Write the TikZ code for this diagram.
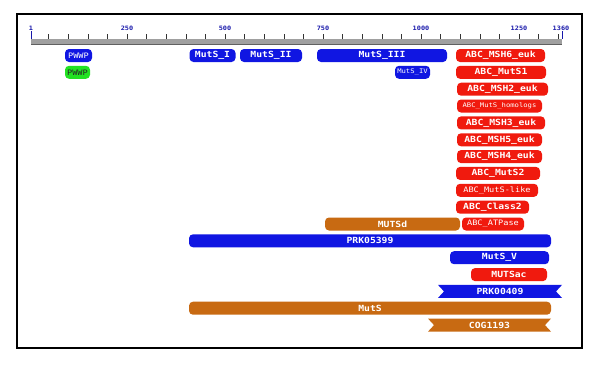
\documentclass[tikz,border=0pt]{standalone}
\usepackage{fontspec}
\newfontfamily\domfont[FakeStretch=1.15]{DejaVu Sans Mono}
\definecolor{cddblue}{RGB}{16,22,226}
\definecolor{cddred}{RGB}{240,26,14}
\definecolor{cddorange}{RGB}{200,106,18}
\definecolor{cddgreen}{RGB}{34,226,34}
\definecolor{rulergray}{RGB}{160,160,160}
\definecolor{ticklabblue}{RGB}{24,24,170}
\tikzset{
  dom/.style={rounded corners=4bp, minimum height=13bp, inner sep=0pt, text=white,
    font=\domfont\bfseries\fontsize{8.5}{9}\selectfont},
  dommid/.style={dom, font=\domfont\fontsize{7.5}{8}\selectfont},
  domsmall/.style={dom, font=\domfont\fontsize{6.3}{7}\selectfont},
  ticklab/.style={inner sep=0pt, text=ticklabblue, font=\domfont\bfseries\fontsize{6}{6}\selectfont}
}
\begin{document}
\begin{tikzpicture}[x=1bp,y=-1bp]
\useasboundingbox (0,0) rectangle (602,367);
\draw[line width=2bp] (17,14) rectangle (582,348);
% ruler
\fill[rulergray] (31,39) rectangle (562,44.5);
\draw[rulergray!60!black,line width=0.6bp] (31,44.5) -- (562,44.5);
\foreach \r in {50,100,...,1350}
  \draw[black!80,line width=0.6bp] ({29+0.392*\r},34) -- ++(0,5);
\draw[ticklabblue,line width=0.8bp] (31,31) -- (31,39);
\draw[ticklabblue,line width=0.8bp] (562,31) -- (562,39);
\node[ticklab] (lab1) at (31,28) {1};
\foreach \r in {250,500,750,1000,1250}
  \node[ticklab] (lab\r) at ({29+0.392*\r},28) {\r};
\node[ticklab] (lab1360) at (561,28) {1360};
% domains
\node[dommid,fill=cddblue,minimum width=27bp] (pwwpA) at (78.5,55.5) {PWWP};
\node[dom,fill=cddblue,minimum width=46bp] (mutsI) at (212.5,55.5) {MutS\_I};
\node[dom,fill=cddblue,minimum width=62bp] (mutsII) at (271,55.5) {MutS\_II};
\node[dom,fill=cddblue,minimum width=130bp] (mutsIII) at (382,55.5) {MutS\_III};
\node[dom,fill=cddred,minimum width=89bp] (msh6) at (500.5,55.5) {ABC\_MSH6\_euk};
\node[dommid,fill=cddgreen,text=black!85,minimum width=25bp] (pwwpB) at (77.5,72.3) {PWWP};
\node[domsmall,fill=cddblue,minimum width=35bp] (mutsIV) at (412.5,72.3) {MutS\_IV};
\node[dom,fill=cddred,minimum width=90bp] (muts1) at (501,72.3) {ABC\_MutS1};
\node[dom,fill=cddred,minimum width=91bp] (msh2) at (502.5,89.2) {ABC\_MSH2\_euk};
\node[domsmall,fill=cddred,minimum width=85bp] (homologs) at (499.5,106) {ABC\_MutS\_homologs};
\node[dom,fill=cddred,minimum width=88bp] (msh3) at (501,122.9) {ABC\_MSH3\_euk};
\node[dom,fill=cddred,minimum width=85bp] (msh5) at (499.5,139.8) {ABC\_MSH5\_euk};
\node[dom,fill=cddred,minimum width=85bp] (msh4) at (499.5,156.6) {ABC\_MSH4\_euk};
\node[dom,fill=cddred,minimum width=84bp] (muts2) at (498,173.4) {ABC\_MutS2};
\node[dommid,fill=cddred,minimum width=82bp] (mutslike) at (497,190.3) {ABC\_MutS-like};
\node[dom,fill=cddred,minimum width=73bp] (class2) at (492.5,207.2) {ABC\_Class2};
\node[dom,fill=cddorange,minimum width=135bp] (mutsd) at (392.5,224) {MUTSd};
\node[dommid,fill=cddred,minimum width=62bp] (atpase) at (493,224) {ABC\_ATPase};
\node[dom,fill=cddblue,minimum width=362bp] (prk05399) at (370,240.8) {PRK05399};
\node[dom,fill=cddblue,minimum width=99bp] (mutsV) at (499.5,257.7) {MutS\_V};
\node[dom,fill=cddred,minimum width=76bp] (mutsac) at (509,274.6) {MUTSac};
\fill[cddblue] (438,284.9) -- (562,284.9) -- (556,291.4) -- (562,297.9)
  -- (438,297.9) -- (444,291.4) -- cycle;
\node[dom] (prk00409) at (500,291.4) {PRK00409};
\node[dom,fill=cddorange,minimum width=362bp] (muts) at (370,308.2) {MutS};
\fill[cddorange] (428,318.6) -- (551,318.6) -- (545,325.1) -- (551,331.6)
  -- (428,331.6) -- (434,325.1) -- cycle;
\node[dom] (cog1193) at (489.5,325.1) {COG1193};
\end{tikzpicture}
\end{document}
